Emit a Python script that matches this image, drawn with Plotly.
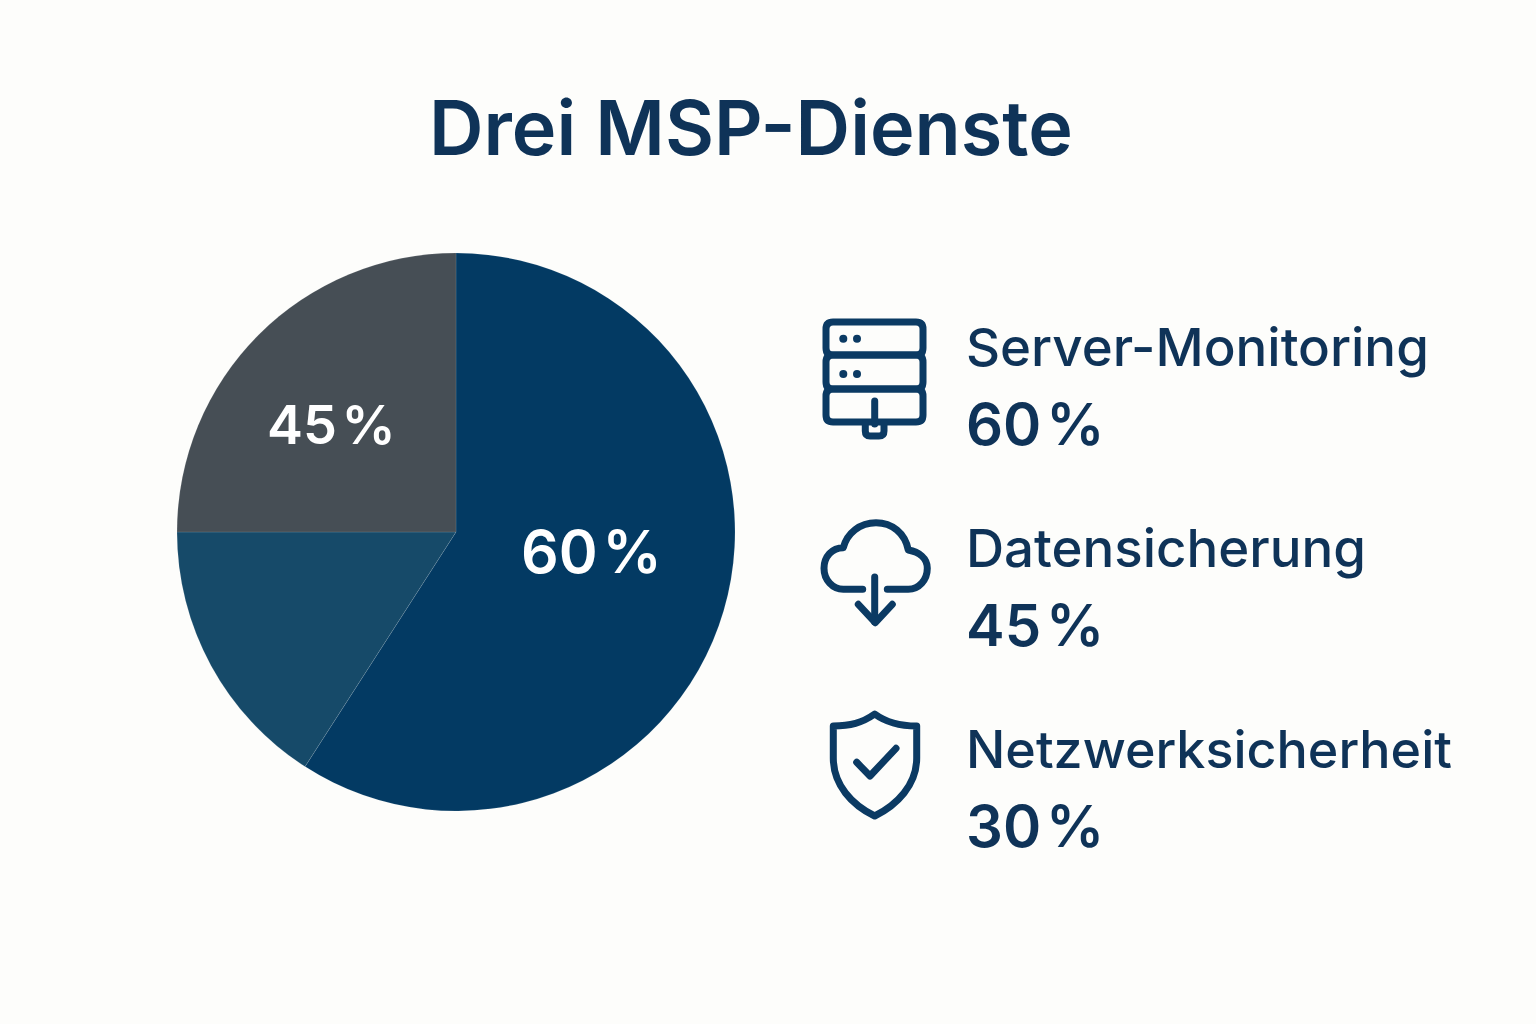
import plotly.graph_objects as go

# slice shares as drawn in the picture, the printed labels say something else
slice_names = ['Server-Monitoring', 'Datensicherung', 'Netzwerksicherheit']
slice_shares = [59.1, 15.9, 25.0]
slice_colors = ['#033A63', '#164A69', '#464E55']

title_text = 'Drei MSP-Dienste'
pie_labels = ['60\u200a%', '45\u200a%']
legend_names = ['Server-Monitoring', 'Datensicherung', 'Netzwerksicherheit']
legend_values = ['60\u200a%', '45\u200a%', '30\u200a%']

BG = '#FDFDFB'
INK = '#0F3358'
ICON = '#0B3A63'
FONT = 'Inter'


def rrect(x0, y0, x1, y1, r):
    return (f'M {x0 + r} {y0} L {x1 - r} {y0} Q {x1} {y0} {x1} {y0 + r} '
            f'L {x1} {y1 - r} Q {x1} {y1} {x1 - r} {y1} '
            f'L {x0 + r} {y1} Q {x0} {y1} {x0} {y1 - r} '
            f'L {x0} {y0 + r} Q {x0} {y0} {x0 + r} {y0} Z')


fig = go.Figure()

fig.add_trace(go.Pie(
    labels=slice_names,
    values=slice_shares,
    sort=False,
    direction='clockwise',
    rotation=0,
    textinfo='none',
    hoverinfo='label',
    showlegend=False,
    marker=dict(colors=slice_colors, line=dict(color='rgba(255,255,255,0.18)', width=0.6)),
    domain=dict(x=[177 / 1536, 735 / 1536], y=[(1024 - 811) / 1024, (1024 - 253) / 1024]),
))

# empty trace, only there so the pixel axes exist for the icons and texts
fig.add_trace(go.Scatter(x=[], y=[], showlegend=False, hoverinfo='skip'))

fig.add_annotation(x=750.5, y=127, text=title_text, showarrow=False, xanchor='center', yanchor='middle',
                   font=dict(family=FONT, size=75.5, color=INK, weight=600))

# labels on the pie
fig.add_annotation(x=591.5, y=551, text=pie_labels[0], showarrow=False, xanchor='center', yanchor='middle',
                   font=dict(family=FONT, size=59, color='white', weight=600))
fig.add_annotation(x=331, y=424, text=pie_labels[1], showarrow=False, xanchor='center', yanchor='middle',
                   font=dict(family=FONT, size=54, color='white', weight=600))

# right hand list
name_y = [347, 548, 749]
value_y = [424, 625, 826]
name_size = [52.8, 52.8, 52]
for name, value, ny, vy, ns in zip(legend_names, legend_values, name_y, value_y, name_size):
    fig.add_annotation(x=963.5, y=ny, text=name, showarrow=False, xanchor='left', yanchor='middle',
                       font=dict(family=FONT, size=ns, color=INK, weight=500))
    fig.add_annotation(x=963.5, y=vy, text=value, showarrow=False, xanchor='left', yanchor='middle',
                       font=dict(family=FONT, size=58, color=INK, weight=600))

line = dict(color=ICON, width=7)

# server icon
for y0, y1 in [(322, 355), (355, 389), (389, 422)]:
    fig.add_shape(type='path', path=rrect(826, y0, 923, y1, 7), line=line)
fig.add_shape(type='path', path='M 874.7 401 L 874.7 424', line=line)
fig.add_shape(type='path', path='M 865.3 423 L 865.3 431 Q 865.3 436 870 436 L 879 436 Q 884 436 884 431 L 884 423',
              line=line)
for cx, cy in [(843.3, 338.7), (857, 338.7), (843.3, 374), (857, 374)]:
    fig.add_shape(type='circle', x0=cx - 4, x1=cx + 4, y0=cy - 4, y1=cy + 4, fillcolor=ICON, line_width=0)

# cloud icon
fig.add_shape(type='path', line=line, path=(
    'M 862.7 589.3 L 843.3 589.3 C 832.6 589.3 824 580 824 568.3 C 824 556.7 832 547.7 843.3 547.7 '
    'C 847 533 860 522.7 876 522.7 C 892 522.7 905 533 908.3 550 C 919 552 927.3 558 927.3 568.3 '
    'C 927.3 580 919 589.3 908.3 589.3 L 887.3 589.3'))
fig.add_shape(type='path', path='M 874.7 577 L 874.7 622', line=line)
fig.add_shape(type='path', path='M 858.3 604.3 L 875.3 622.7 L 892.3 604.3', line=line)

# shield icon
fig.add_shape(type='path', line=line, path=(
    'M 874.7 714 C 862 723 850 726 833.3 726 L 833.3 758 C 833.3 785 852 805 874.7 816 '
    'C 897 805 916.7 785 916.7 758 L 916.7 726 C 900 726 887 723 874.7 714 Z'))
fig.add_shape(type='path', path='M 856.7 762.3 L 870 776 L 896 748.3', line=line)

fig.update_layout(
    width=1536,
    height=1024,
    margin=dict(l=0, r=0, t=0, b=0),
    paper_bgcolor=BG,
    plot_bgcolor=BG,
    xaxis=dict(range=[0, 1536], visible=False, fixedrange=True),
    yaxis=dict(range=[1024, 0], visible=False, fixedrange=True),
)

# page margin off, rounded ends on the icon strokes
post = """document.body.style.margin='0';document.body.style.background='#FDFDFB';
document.querySelectorAll('.shapelayer path').forEach(function(p){
p.style.strokeLinecap='round';p.style.strokeLinejoin='round';});"""

fig.write_html("out.html", post_script=post, config={'displayModeBar': False})
